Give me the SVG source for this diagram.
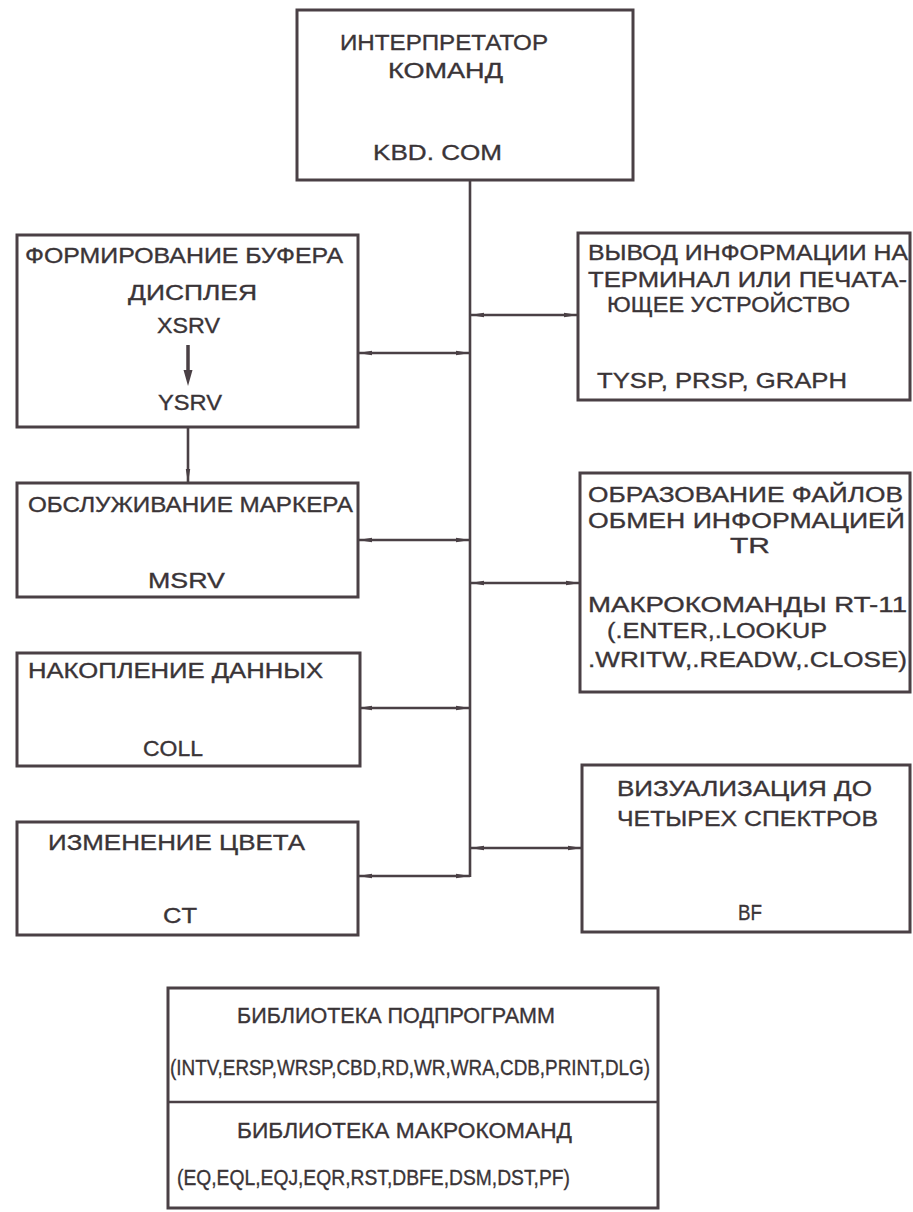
<svg xmlns="http://www.w3.org/2000/svg" width="913" height="1212" viewBox="0 0 913 1212">
<style>
.box{fill:#ffffff;stroke:#4a4045;stroke-width:3}
.t{font-family:"Liberation Sans",Arial,sans-serif;font-size:22.5px;fill:#3a3437;stroke:#3a3437;stroke-width:0.35}
.c{stroke:#4a4045;stroke-width:2.6;fill:none}
.a{marker-start:url(#ah);marker-end:url(#ah)}
</style>
<defs>
<marker id="ah" viewBox="0 0 14 6" refX="14" refY="3" markerWidth="14" markerHeight="6" markerUnits="userSpaceOnUse" orient="auto-start-reverse">
<path d="M0,0.8 L14,3 L0,5.2 z" fill="#4a4045"/>
</marker>
</defs>
<rect width="913" height="1212" fill="#ffffff"/>

<g id="connectors">
<line class="c" x1="470" y1="180" x2="470" y2="877"/>
<line class="c a" x1="358" y1="353" x2="470" y2="353"/>
<line class="c a" x1="358" y1="540" x2="470" y2="540"/>
<line class="c a" x1="358" y1="708" x2="470" y2="708"/>
<line class="c a" x1="358" y1="876" x2="470" y2="876"/>
<line class="c a" x1="470" y1="315" x2="578" y2="315"/>
<line class="c a" x1="470" y1="583" x2="580" y2="583"/>
<line class="c a" x1="470" y1="848" x2="582" y2="848"/>
<line class="c" x1="188" y1="427" x2="188" y2="483" marker-end="url(#ah)"/>
</g>

<g id="kbd">
<rect class="box" x="297" y="10" width="336" height="170"/>
<text class="t" x="340" y="50" textLength="208" lengthAdjust="spacingAndGlyphs">ИНТЕРПРЕТАТОР</text>
<text class="t" x="388" y="78" textLength="115" lengthAdjust="spacingAndGlyphs">КОМАНД</text>
<text class="t" x="373" y="160" textLength="129" lengthAdjust="spacingAndGlyphs">KBD. COM</text>
</g>

<g id="xsrv">
<rect class="box" x="17" y="235" width="341" height="192"/>
<text class="t" x="25" y="263" textLength="318" lengthAdjust="spacingAndGlyphs">ФОРМИРОВАНИЕ БУФЕРА</text>
<text class="t" x="128" y="300" textLength="129" lengthAdjust="spacingAndGlyphs">ДИСПЛЕЯ</text>
<text class="t" x="157" y="333" textLength="63" lengthAdjust="spacingAndGlyphs">XSRV</text>
<line x1="188" y1="345" x2="188" y2="372" stroke="#4a4045" stroke-width="3.5"/>
<path d="M183.5,370 L188,386 L192.5,370 z" fill="#4a4045"/>
<text class="t" x="158" y="410" textLength="64" lengthAdjust="spacingAndGlyphs">YSRV</text>
</g>

<g id="msrv">
<rect class="box" x="17" y="483" width="341" height="114"/>
<text class="t" x="28" y="512" textLength="325" lengthAdjust="spacingAndGlyphs">ОБСЛУЖИВАНИЕ МАРКЕРА</text>
<text class="t" x="148" y="588" textLength="77" lengthAdjust="spacingAndGlyphs">MSRV</text>
</g>

<g id="coll">
<rect class="box" x="17" y="653" width="343" height="113"/>
<text class="t" x="28" y="678" textLength="295" lengthAdjust="spacingAndGlyphs">НАКОПЛЕНИЕ ДАННЫХ</text>
<text class="t" x="143" y="756" textLength="60" lengthAdjust="spacingAndGlyphs">COLL</text>
</g>

<g id="ct">
<rect class="box" x="17" y="822" width="341" height="113"/>
<text class="t" x="48" y="850" textLength="257" lengthAdjust="spacingAndGlyphs">ИЗМЕНЕНИЕ  ЦВЕТА</text>
<text class="t" x="163" y="923" textLength="34" lengthAdjust="spacingAndGlyphs">CT</text>
</g>

<g id="tysp">
<rect class="box" x="578" y="233" width="332" height="167"/>
<text class="t" x="588" y="260" textLength="320" lengthAdjust="spacingAndGlyphs">ВЫВОД ИНФОРМАЦИИ НА</text>
<text class="t" x="588" y="287" textLength="319" lengthAdjust="spacingAndGlyphs">ТЕРМИНАЛ ИЛИ ПЕЧАТА-</text>
<text class="t" x="607" y="312" textLength="243" lengthAdjust="spacingAndGlyphs">ЮЩЕЕ УСТРОЙСТВО</text>
<text class="t" x="597" y="388" textLength="250" lengthAdjust="spacingAndGlyphs">TYSP, PRSP, GRAPH</text>
</g>

<g id="tr">
<rect class="box" x="580" y="473" width="330" height="219"/>
<text class="t" x="588" y="502" textLength="315" lengthAdjust="spacingAndGlyphs">ОБРАЗОВАНИЕ ФАЙЛОВ</text>
<text class="t" x="588" y="528" textLength="317" lengthAdjust="spacingAndGlyphs">ОБМЕН ИНФОРМАЦИЕЙ</text>
<text class="t" x="730" y="553" textLength="40" lengthAdjust="spacingAndGlyphs">TR</text>
<text class="t" x="588" y="612" textLength="319" lengthAdjust="spacingAndGlyphs">МАКРОКОМАНДЫ RT-11</text>
<text class="t" x="607" y="638" textLength="220" lengthAdjust="spacingAndGlyphs">(.ENTER,.LOOKUP</text>
<text class="t" x="588" y="667" textLength="319" lengthAdjust="spacingAndGlyphs">.WRITW,.READW,.CLOSE)</text>
</g>

<g id="bf">
<rect class="box" x="582" y="765" width="328" height="167"/>
<text class="t" x="617" y="796" textLength="255" lengthAdjust="spacingAndGlyphs">ВИЗУАЛИЗАЦИЯ ДО</text>
<text class="t" x="617" y="826" textLength="261" lengthAdjust="spacingAndGlyphs">ЧЕТЫРЕХ СПЕКТРОВ</text>
<text class="t" x="738" y="920" textLength="24" lengthAdjust="spacingAndGlyphs">BF</text>
</g>

<g id="library">
<rect class="box" x="168" y="988" width="490" height="220"/>
<line class="c" x1="168" y1="1102" x2="658" y2="1102" stroke-width="3"/>
<text class="t" x="237" y="1023" textLength="318" lengthAdjust="spacingAndGlyphs">БИБЛИОТЕКА  ПОДПРОГРАММ</text>
<text class="t" x="170" y="1075" textLength="480" lengthAdjust="spacingAndGlyphs">(INTV,ERSP,WRSP,CBD,RD,WR,WRA,CDB,PRINT,DLG)</text>
<text class="t" x="237" y="1138" textLength="335" lengthAdjust="spacingAndGlyphs">БИБЛИОТЕКА  МАКРОКОМАНД</text>
<text class="t" x="177" y="1185" textLength="393" lengthAdjust="spacingAndGlyphs">(EQ,EQL,EQJ,EQR,RST,DBFE,DSM,DST,PF)</text>
</g>
</svg>
